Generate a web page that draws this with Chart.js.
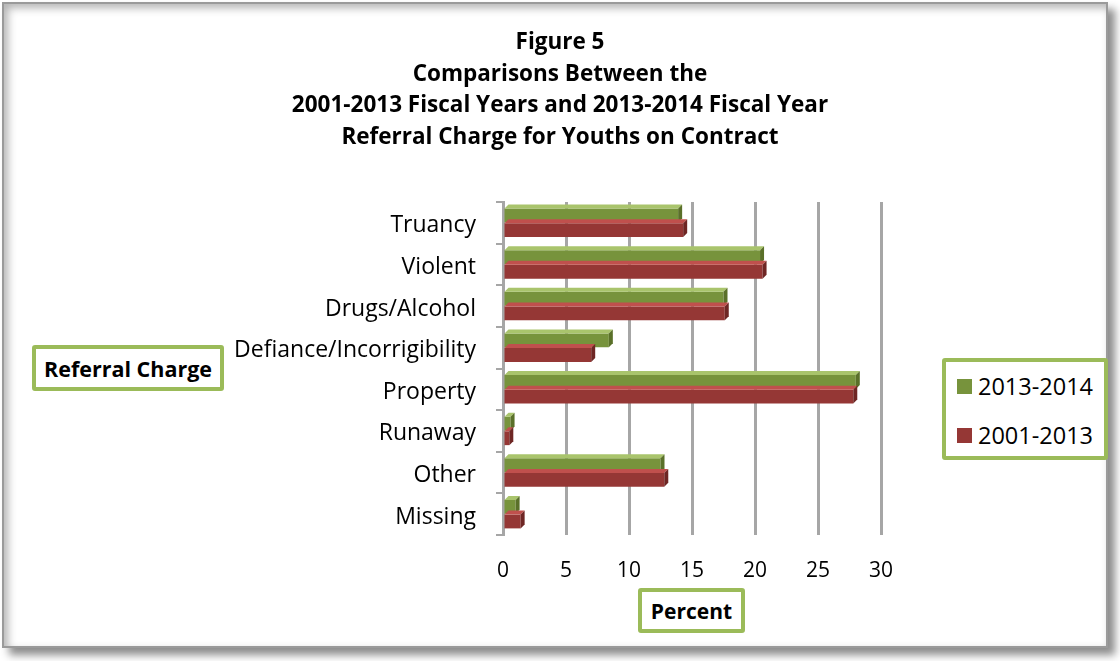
<!DOCTYPE html>
<html>
<head>
<meta charset="utf-8">
<script src="https://cdn.jsdelivr.net/npm/chart.js@4.4.1/dist/chart.umd.min.js"></script>
<style>
  html, body { margin: 0; padding: 0; background: #ffffff; }
  body { width: 1120px; height: 661px; position: relative; overflow: hidden; font-family: "Open Sans", Lato, sans-serif; }
  #frame {
    position: absolute; left: 2px; top: 2px; width: 1102px; height: 642px;
    border: 2px solid #9a9a9a;
    box-shadow: inset 4px 4px 8px rgba(0,0,0,0.30), 7px 7px 8px rgba(0,0,0,0.45);
    background: #ffffff;
  }
  #wrap { position: absolute; left: 0; top: 0; width: 1120px; height: 661px; }
  .tag {
    position: absolute; box-sizing: border-box; border: 4px solid #9bbb59; border-radius: 3px;
    background: #fff; font-weight: bold; font-size: 21.5px; color: #000;
    display: flex; align-items: center; justify-content: center;
  }
  #legend {
    position: absolute; left: 942px; top: 358px; width: 166px; height: 102px; box-sizing: border-box;
    border: 4px solid #9bbb59; border-radius: 3px; background: #fff;
  }
  .item { position: absolute; left: 11px; font-size: 23.5px; color: #000; display: flex; align-items: center; white-space: nowrap; }
  .swatch { width: 15px; height: 15px; margin-right: 6px; }
</style>
</head>
<body>
<div id="frame"></div>
<div id="wrap"><canvas id="chart" width="1120" height="661"></canvas></div>
<div class="tag" style="left:32px;top:345px;width:192px;height:46px;">Referral Charge</div>
<div class="tag" style="left:638px;top:588px;width:107px;height:45px;font-size:21px;">Percent</div>
<div id="legend"></div>
<script>
// Referral charge categories, top to bottom
const categories = ["Truancy", "Violent", "Drugs/Alcohol", "Defiance/Incorrigibility", "Property", "Runaway", "Other", "Missing"];
// Percent of youths on contract per referral charge
const fy2013_2014 = [13.9, 20.4, 17.5, 8.4, 28.0, 0.6, 12.5, 1.0];
const fy2001_2013 = [14.3, 20.6, 17.6, 7.0, 27.8, 0.5, 12.8, 1.4];
const seriesNames = ["2013-2014", "2001-2013"];
const xTicks = [0, 5, 10, 15, 20, 25, 30];
const titleLines = [
  "Figure 5",
  "Comparisons Between the",
  "2001-2013 Fiscal Years and 2013-2014 Fiscal Year",
  "Referral Charge for Youths on Contract"
];

const faceColors = ["#77933c", "#953735"];
const topColors = ["#a9c46c", "#c0504d"];
const sideColors = ["#5a7029", "#6e2624"];
const FONT = "'Open Sans', Lato, sans-serif";

// Gives each bar a shallow bevel: a lit top edge and a shaded end cap
const bevel = {
  id: "bevel",
  afterDatasetsDraw(chart) {
    const ctx = chart.ctx;
    const d = 4;
    chart.data.datasets.forEach((ds, i) => {
      chart.getDatasetMeta(i).data.forEach(bar => {
        const p = bar.getProps(["x", "y", "base", "height"], true);
        const t = p.y - p.height / 2, b = p.y + p.height / 2;
        ctx.save();
        ctx.fillStyle = topColors[i];
        ctx.beginPath();
        ctx.moveTo(p.base, t); ctx.lineTo(p.base + d, t - d);
        ctx.lineTo(p.x + d, t - d); ctx.lineTo(p.x, t); ctx.closePath(); ctx.fill();
        ctx.fillStyle = sideColors[i];
        ctx.beginPath();
        ctx.moveTo(p.x, t); ctx.lineTo(p.x + d, t - d);
        ctx.lineTo(p.x + d, b - d); ctx.lineTo(p.x, b); ctx.closePath(); ctx.fill();
        ctx.restore();
      });
    });
  }
};

// Centre the title across the whole canvas rather than the padded plot region
const titleSpan = {
  id: "titleSpan",
  afterLayout(chart) {
    const tb = chart.titleBlock;
    if (tb) { tb.left = 0; tb.right = chart.width; tb.width = chart.width; }
  }
};

const chart = new Chart(document.getElementById("chart"), {
  type: "bar",
  data: {
    labels: categories,
    datasets: [
      { label: seriesNames[0], data: fy2013_2014, backgroundColor: faceColors[0] },
      { label: seriesNames[1], data: fy2001_2013, backgroundColor: faceColors[1] }
    ]
  },
  options: {
    indexAxis: "y",
    responsive: false,
    animation: false,
    layout: { padding: { left: 0, right: 239, top: 0, bottom: 68 } },
    datasets: { bar: { categoryPercentage: 0.7, barPercentage: 0.95 } },
    plugins: {
      legend: { display: false },
      tooltip: { enabled: false },
      title: {
        display: true,
        text: titleLines,
        color: "#000",
        font: { family: FONT, size: 22.5, weight: "bold", lineHeight: 1.4 },
        padding: { top: 27, bottom: 49 }
      }
    },
    scales: {
      x: {
        min: 0, max: 30,
        afterBuildTicks(scale) { scale.ticks = xTicks.map(v => ({ value: v })); },
        afterFit(scale) { scale.height = 58; },
        grid: { color: "#a6a6a6", lineWidth: 3, drawTicks: false },
        border: { display: false },
        ticks: { color: "#000", font: { family: FONT, size: 21 }, padding: 23 }
      },
      y: {
        afterFit(scale) { scale.width = 503; },
        grid: { drawOnChartArea: false, drawTicks: true, tickLength: 7, color: "#a6a6a6", lineWidth: 2 },
        border: { color: "#a6a6a6", width: 3 },
        ticks: { color: "#000", font: { family: FONT, size: 23 }, padding: 20, labelOffset: 3 }
      }
    }
  },
  plugins: [bevel, titleSpan]
});

// Legend entries taken from the chart's own datasets
const legendBox = document.getElementById("legend");
chart.data.datasets.forEach((ds, i) => {
  const item = document.createElement("div");
  item.className = "item";
  item.style.top = (i === 0 ? 8 : 57) + "px";
  item.innerHTML = '<span class="swatch" style="background:' + ds.backgroundColor + '"></span>' + ds.label;
  legendBox.appendChild(item);
});
</script>
</body>
</html>
